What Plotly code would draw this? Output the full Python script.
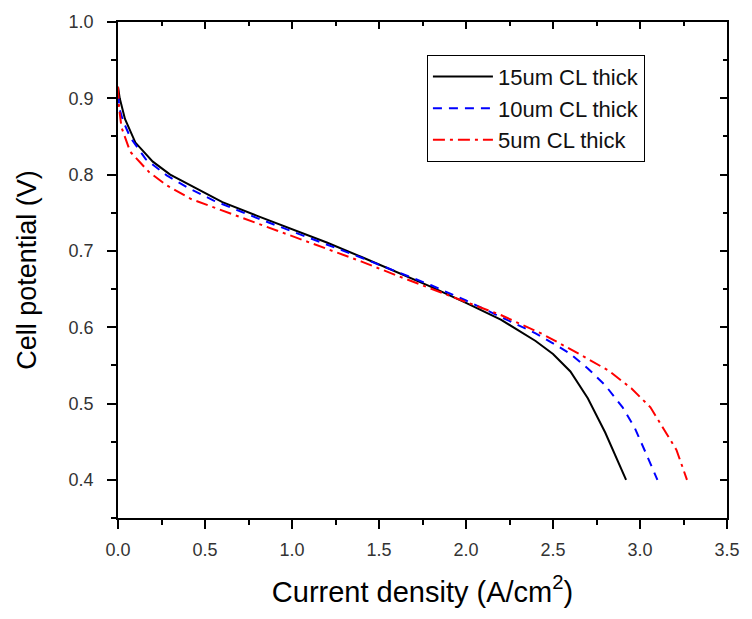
import plotly.graph_objects as go

# Data
x15 = [0, 0.01, 0.04, 0.1, 0.2, 0.3, 0.45, 0.6, 0.8, 1.0, 1.2, 1.4, 1.6, 1.8, 2.0, 2.2, 2.4, 2.5, 2.6, 2.7, 2.8, 2.86, 2.92]
v15 = [0.915, 0.9, 0.873, 0.842, 0.817, 0.800, 0.782, 0.764, 0.746, 0.729, 0.711, 0.692, 0.673, 0.653, 0.632, 0.610, 0.582, 0.565, 0.542, 0.507, 0.462, 0.432, 0.40]

x10 = [0, 0.01, 0.03, 0.07, 0.16, 0.28, 0.4, 0.55, 0.8, 1.0, 1.2, 1.4, 1.6, 1.8, 2.0, 2.2, 2.4, 2.5, 2.6, 2.7, 2.8, 2.9, 2.97, 3.03, 3.1]
v10 = [0.905, 0.885, 0.87, 0.849, 0.82, 0.799, 0.783, 0.766, 0.743, 0.726, 0.709, 0.691, 0.673, 0.655, 0.635, 0.614, 0.592, 0.579, 0.565, 0.546, 0.524, 0.495, 0.468, 0.437, 0.40]

x5 = [0, 0.005, 0.02, 0.07, 0.18, 0.28, 0.42, 0.6, 0.8, 1.0, 1.2, 1.4, 1.6, 1.8, 2.0, 2.2, 2.44, 2.65, 2.82, 2.95, 3.06, 3.13, 3.21, 3.27]
v5 = [0.915, 0.89, 0.862, 0.83, 0.803, 0.786, 0.768, 0.753, 0.736, 0.720, 0.703, 0.686, 0.668, 0.650, 0.633, 0.616, 0.591, 0.565, 0.543, 0.52, 0.495, 0.469, 0.439, 0.40]

names = ["15um CL thick", "10um CL thick", "5um CL thick"]

XR = [0, 3.5]
YR = [0.35, 1.0]
FONT = "Liberation Sans, Arial, sans-serif"

fig = go.Figure()
fig.add_trace(go.Scatter(x=x15, y=v15, mode="lines", name=names[0],
                         line=dict(color="black", width=2, dash="solid")))
fig.add_trace(go.Scatter(x=x10, y=v10, mode="lines", name=names[1],
                         line=dict(color="#0000ff", width=2, dash="9px,7px")))
fig.add_trace(go.Scatter(x=x5, y=v5, mode="lines", name=names[2],
                         line=dict(color="#ff0000", width=2, dash="12px,5px,3px,5px")))
# invisible helper trace so the mirrored top/right axes get drawn
fig.add_trace(go.Scatter(x=x15, y=v15, mode="lines", xaxis="x2", yaxis="y2",
                         line=dict(color="rgba(0,0,0,0)", width=0),
                         showlegend=False, hoverinfo="skip"))

tickfont = dict(family=FONT, size=18, color="#333")
AX = dict(showline=True, linecolor="black", linewidth=1.5,
          tickwidth=1.5, tickcolor="black", showgrid=False, zeroline=False)
fig.update_layout(
    width=752, height=619,
    margin=dict(l=118, r=15, t=19, b=101),
    paper_bgcolor="white", plot_bgcolor="white",
    showlegend=True,
    legend=dict(x=(432 - 118) / 619, y=(518 - 52) / 499, xanchor="left", yanchor="top",
                bordercolor="black", borderwidth=1, bgcolor="white",
                font=dict(family=FONT, size=22, color="#111"),
                itemwidth=60, tracegroupgap=0,
                entrywidth=170, entrywidthmode="pixels"),
    xaxis=dict(range=XR, dtick=0.5, tick0=0, tickformat=".1f",
               ticks="outside", ticklen=9,
               minor=dict(dtick=0.25, ticks="outside", ticklen=5, tickcolor="black", tickwidth=1.5),
               tickfont=tickfont, ticklabelstandoff=6,
               title=dict(text="Current density (A/cm<sup>2</sup>)",
                          font=dict(family=FONT, size=29, color="black"), standoff=22), **AX),
    yaxis=dict(range=YR, dtick=0.1, tick0=0.4, tickformat=".1f",
               ticks="outside", ticklen=9,
               minor=dict(dtick=0.05, ticks="outside", ticklen=5, tickcolor="black", tickwidth=1.5),
               tickfont=tickfont, ticklabelstandoff=10,
               title=dict(text="Cell potential (V)",
                          font=dict(family=FONT, size=27, color="black"), standoff=24), **AX),
    xaxis2=dict(range=XR, dtick=0.5, tick0=0, overlaying="x", side="top", anchor="y2",
                ticks="inside", ticklen=7,
                minor=dict(dtick=0.25, ticks="inside", ticklen=4, tickcolor="black", tickwidth=1.5),
                showticklabels=False, **AX),
    yaxis2=dict(range=YR, dtick=0.1, tick0=0.4, overlaying="y", side="right", anchor="x2",
                ticks="inside", ticklen=7,
                minor=dict(dtick=0.05, ticks="inside", ticklen=4, tickcolor="black", tickwidth=1.5),
                showticklabels=False, **AX),
)

fig.write_html("out.html")
